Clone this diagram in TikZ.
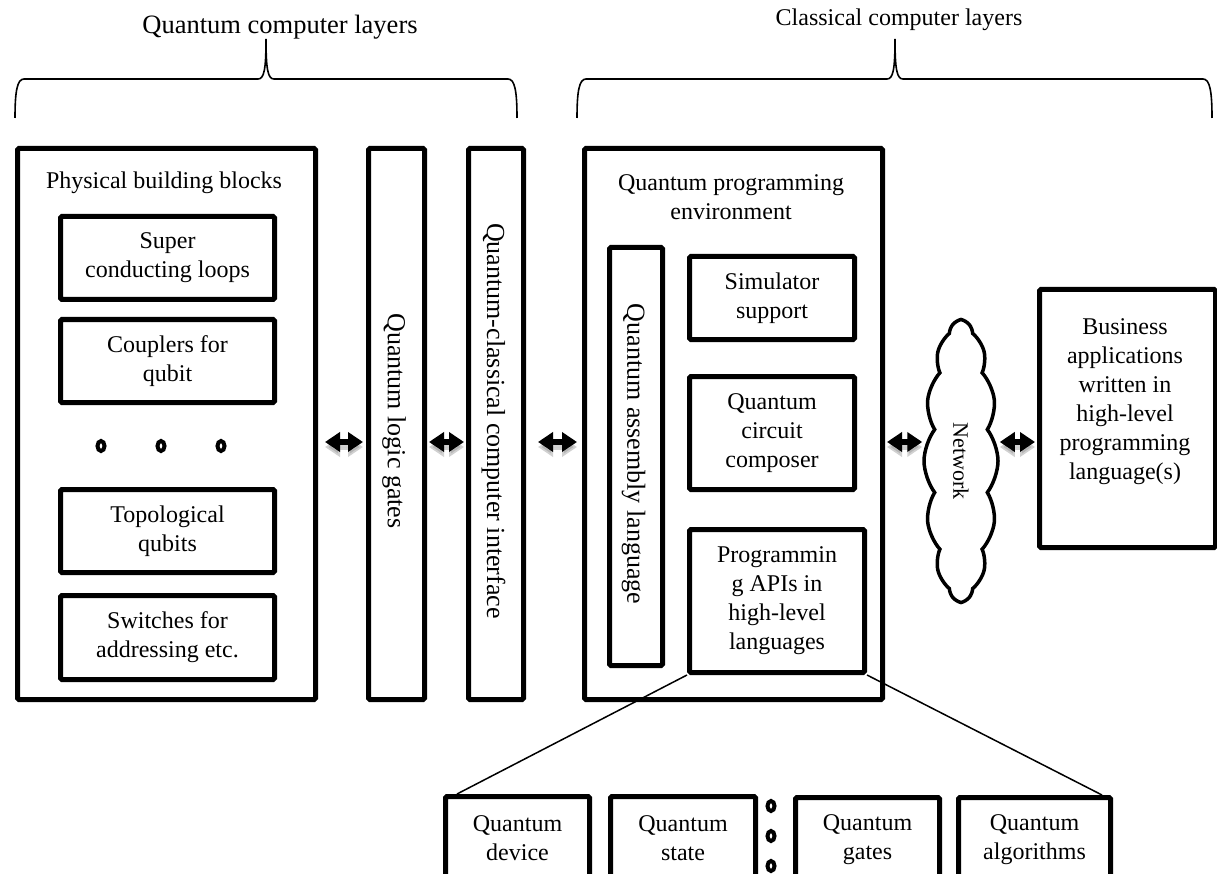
\documentclass[tikz,border=0pt]{standalone}
\usepackage{fontspec}
\setmainfont{Liberation Serif}
\usetikzlibrary{shapes.symbols,arrows.meta}
\begin{document}
\begin{tikzpicture}[x=1pt,y=-1pt,
  box/.style={draw, line width=5pt, rounded corners=1.5pt, inner sep=0pt, anchor=north west, align=center, font=\fontsize{24}{29}\selectfont},
  lbl/.style={inner sep=0pt, align=center, font=\fontsize{24}{29}\selectfont},
  vlbl/.style={inner sep=0pt, rotate=-90, font=\fontsize{26}{30}\selectfont},
  dotmark/.style={line width=4pt},
  dbl/.style={line width=6pt, {Triangle[length=15pt,width=19pt]}-{Triangle[length=15pt,width=19pt]}},
  dblsh/.style={dbl, draw=black!45, fill=black!45, opacity=.4, transform canvas={yshift=-5pt}},
  thin/.style={line width=1.5pt},
  bracepath/.style={line width=1.6pt}
]
\useasboundingbox (0,0) rectangle (1217,874);

% headings and braces
\node[inner sep=0pt, font=\fontsize{26.5}{30}\selectfont] (qhead) at (280,27) {Quantum computer layers};
\node[inner sep=0pt, font=\fontsize{24}{28}\selectfont] (chead) at (899,20) {Classical computer layers};
\draw[bracepath] (15,118) .. controls (15,92) and (17,79) .. (24,79) -- (258,79)
  .. controls (264,79) and (266,70) .. (266,39) .. controls (266,70) and (268,79) .. (274,79)
  -- (508,79) .. controls (515,79) and (517,92) .. (517,118);
\draw[bracepath] (577,118) .. controls (577,92) and (579,79) .. (586,79) -- (887,79)
  .. controls (893,79) and (895,70) .. (895,39) .. controls (895,70) and (897,79) .. (903,79)
  -- (1203,79) .. controls (1210,79) and (1212,92) .. (1212,118);

% physical building blocks
\node[box, minimum width=298pt, minimum height=551pt] (A) at (15,146) {};
\node[lbl] (Atitle) at (164,183) {Physical building blocks};
\node[box, minimum width=214pt, minimum height=83pt] (A1) at (58,214) {Super\\conducting loops};
\node[box, minimum width=214pt, minimum height=83pt] (A2) at (58,317) {Couplers for\\qubit};
\draw[dotmark] (101,446) ellipse [x radius=3.5, y radius=5];
\draw[dotmark] (161,446) ellipse [x radius=3.5, y radius=5];
\draw[dotmark] (221,446) ellipse [x radius=3.5, y radius=5];
\node[box, minimum width=214pt, minimum height=83pt] (A3) at (58,487) {Topological\\qubits};
\node[box, minimum width=214pt, minimum height=84pt] (A4) at (58,593) {Switches for\\addressing etc.};

% vertical layers
\node[box, minimum width=56pt, minimum height=551pt] (B) at (366,146) {};
\node[vlbl] (Btxt) at (394,421) {Quantum logic gates};
\node[box, minimum width=55pt, minimum height=551pt] (C) at (466,146) {};
\node[vlbl] (Ctxt) at (493.5,421) {Quantum-classical computer interface};

% programming environment
\node[box, minimum width=298pt, minimum height=551pt] (D) at (582,146) {};
\node[lbl] (Dtitle) at (731,197) {Quantum programming\\environment};
\node[box, minimum width=53pt, minimum height=418pt] (D1) at (607,245) {};
\node[vlbl] (D1txt) at (633.5,454) {Quantum assembly language};
\node[box, minimum width=165pt, minimum height=83pt] (D2) at (687,254) {Simulator\\support};
\node[box, minimum width=165pt, minimum height=113pt] (D3) at (687,374) {Quantum\\circuit\\composer};
\node[box, minimum width=175pt, minimum height=143pt] (D4) at (687,527) {Programmin\\g APIs in\\high-level\\languages};

% network and business apps
\node[cloud, draw, line width=3.5pt, cloud puffs=14, cloud puff arc=75, cloud ignores aspect, minimum width=280pt, minimum height=74pt, rotate=-90, inner sep=0pt, font=\fontsize{22}{26}\selectfont] (net) at (961,461) {Network};
\node[box, minimum width=176pt, minimum height=258pt] (E) at (1037,287) {};
\node[lbl] (Etxt) at (1125,402) {Business\\applications\\written in\\high-level\\programming\\language(s)};

% bottom boxes
\node[box, minimum width=144pt, minimum height=84pt] (dev) at (443,794) {Quantum\\device};
\node[box, minimum width=145pt, minimum height=84pt] (st) at (608,794) {Quantum\\state};
\draw[dotmark] (771,806) ellipse [x radius=3.5, y radius=5];
\draw[dotmark] (771,836) ellipse [x radius=3.5, y radius=5];
\draw[dotmark] (771,866) ellipse [x radius=3.5, y radius=5];
\node[box, minimum width=144pt, minimum height=84pt] (gat) at (793,795) {Quantum\\gates};
\node[box, minimum width=152pt, minimum height=84pt] (alg) at (956,795) {Quantum\\algorithms};

% connectors
\coordinate (ay) at (0,442);
\foreach \s in {dblsh,dbl}{
  \draw[\s, shorten <=7pt, shorten >=3pt] (A.east |- ay) -- (B.west |- ay);
  \draw[\s, shorten <=2pt, shorten >=2pt] (B.east |- ay) -- (C.west |- ay);
  \draw[\s, shorten <=12pt, shorten >=5pt] (C.east |- ay) -- (D.west |- ay);
  \draw[\s, shorten <=2pt, shorten >=0pt] (D.east |- ay) -- (net.south |- ay);
  \draw[\s, shorten <=0pt, shorten >=2pt] (net.north |- ay) -- (E.west |- ay);
}
\draw[thin] (D4.south west) -- ([xshift=14pt]dev.north west);
\draw[thin] (D4.south east) -- ([xshift=-11pt]alg.north east);
\end{tikzpicture}
\end{document}
